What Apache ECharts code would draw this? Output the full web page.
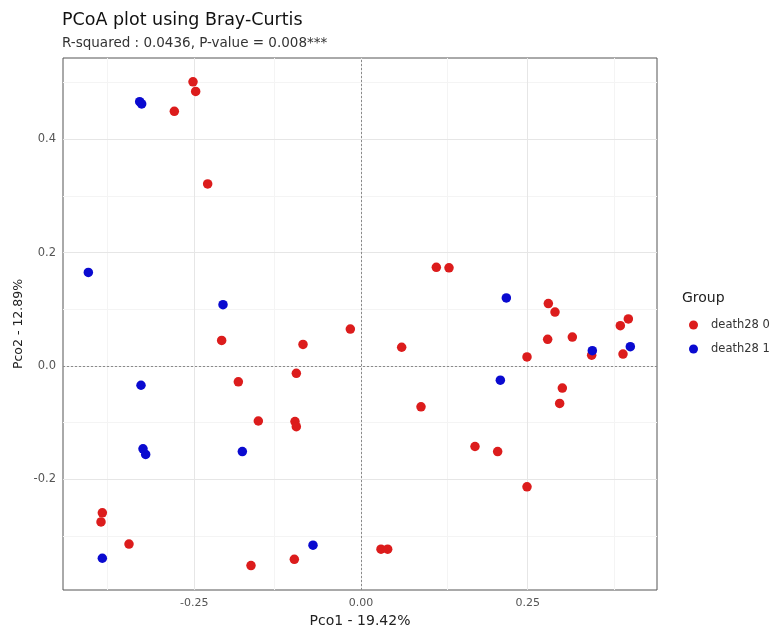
<!DOCTYPE html>
<html>
<head>
<meta charset="utf-8">
<script src="https://cdn.jsdelivr.net/npm/echarts@6/dist/echarts.min.js"></script>
<style>
  html, body { margin: 0; padding: 0; background: #fff; }
  #chart { width: 779px; height: 634px; }
</style>
</head>
<body>
<div id="chart"></div>
<script>
// ---- data ----
const groupNames = ['death28 0', 'death28 1'];
const groupColors = ['#dc1c1c', '#0a0ad0'];

const death28_0 = [
  [-0.252, 0.501], [-0.248, 0.484], [-0.280, 0.449], [-0.230, 0.321],
  [-0.016, 0.065], [-0.209, 0.045], [-0.087, 0.038], [-0.097, -0.013],
  [-0.184, -0.028], [-0.154, -0.097], [-0.099, -0.098], [-0.097, -0.107],
  [-0.388, -0.259], [-0.390, -0.275], [-0.348, -0.314], [-0.100, -0.341],
  [-0.165, -0.352], [0.030, -0.323], [0.040, -0.323], [0.113, 0.174],
  [0.132, 0.173], [0.281, 0.110], [0.291, 0.095], [0.401, 0.083],
  [0.389, 0.071], [0.280, 0.047], [0.317, 0.051], [0.061, 0.033],
  [0.346, 0.019], [0.393, 0.021], [0.249, 0.016], [0.302, -0.039],
  [0.298, -0.066], [0.090, -0.072], [0.171, -0.142], [0.205, -0.151],
  [0.249, -0.213]
];
const death28_1 = [
  [-0.332, 0.466], [-0.329, 0.462], [-0.409, 0.165], [-0.207, 0.108],
  [-0.330, -0.034], [-0.327, -0.146], [-0.323, -0.156], [-0.178, -0.151],
  [-0.388, -0.339], [-0.072, -0.316], [0.218, 0.120], [0.209, -0.025],
  [0.347, 0.027], [0.404, 0.034]
];

const xTicks = [-0.25, 0, 0.25];
const yTicks = [-0.2, 0, 0.2, 0.4];
const xMinor = [-0.375, -0.125, 0.125, 0.375];
const yMinor = [-0.3, -0.1, 0.1, 0.3, 0.5];
const xRange = [-0.447, 0.444];
const yRange = [-0.395, 0.543];

const titleText = 'PCoA plot using Bray-Curtis';
const subText = 'R-squared : 0.0436, P-value = 0.008***';
const xName = 'Pco1 - 19.42%';
const yName = 'Pco2 - 12.89%';
const legendTitle = 'Group';

// ---- chart ----
const FONT = 'DejaVu Sans, Liberation Sans, sans-serif';
const chart = echarts.init(document.getElementById('chart'), null, { renderer: 'canvas' });

const minorStyle = { color: '#f4f4f4', width: 1, type: 'solid' };
const majorStyle = { color: '#e6e6e6', width: 1, type: 'solid' };
const zeroStyle = { color: '#8a8a8a', width: 1, type: [2, 2] };

const gridLines = [];
xMinor.forEach(v => gridLines.push({ xAxis: v, lineStyle: minorStyle }));
yMinor.forEach(v => gridLines.push({ yAxis: v, lineStyle: minorStyle }));
xTicks.forEach(v => gridLines.push({ xAxis: v, lineStyle: majorStyle }));
yTicks.forEach(v => gridLines.push({ yAxis: v, lineStyle: majorStyle }));
gridLines.push({ xAxis: 0, lineStyle: zeroStyle });
gridLines.push({ yAxis: 0, lineStyle: zeroStyle });

chart.setOption({
  animation: false,
  textStyle: { fontFamily: FONT },
  title: [
    {
      text: titleText,
      subtext: subText,
      left: 62,
      top: 11,
      padding: 0,
      itemGap: 7,
      textStyle: { fontFamily: FONT, fontSize: 17.5, fontWeight: 'normal', color: '#111' },
      subtextStyle: { fontFamily: FONT, fontSize: 13.5, color: '#333' }
    },
    {
      text: legendTitle,
      left: 682,
      top: 291,
      padding: 0,
      textStyle: { fontFamily: FONT, fontSize: 14, fontWeight: 'normal', color: '#222' }
    }
  ],
  legend: {
    data: groupNames,
    orient: 'vertical',
    left: 684,
    top: 313,
    itemWidth: 9,
    itemHeight: 9,
    itemGap: 10,
    icon: 'circle',
    textStyle: { fontFamily: FONT, fontSize: 11.5, color: '#333', lineHeight: 14, padding: [0, 0, 0, 8] }
  },
  grid: {
    left: 63, right: 122, top: 58, bottom: 44,
    show: true, borderColor: '#555', borderWidth: 1, backgroundColor: '#fff'
  },
  xAxis: {
    type: 'value',
    min: xRange[0], max: xRange[1],
    name: xName,
    nameLocation: 'middle',
    nameGap: 24,
    nameTextStyle: { fontFamily: FONT, fontSize: 14, color: '#222' },
    axisLine: { show: false },
    splitLine: { show: false },
    axisTick: { show: true, customValues: xTicks, length: 3, lineStyle: { color: '#444' } },
    axisLabel: {
      customValues: xTicks,
      formatter: v => v.toFixed(2),
      fontFamily: FONT, fontSize: 11, color: '#555', margin: 8
    }
  },
  yAxis: {
    type: 'value',
    min: yRange[0], max: yRange[1],
    name: yName,
    nameLocation: 'middle',
    nameGap: 38,
    nameMoveOverlap: false,
    nameRotate: 90,
    nameTextStyle: { fontFamily: FONT, fontSize: 12.5, color: '#222' },
    axisLine: { show: false },
    splitLine: { show: false },
    axisTick: { show: true, customValues: yTicks, length: 3, lineStyle: { color: '#444' } },
    axisLabel: {
      customValues: yTicks,
      formatter: v => v.toFixed(1),
      fontFamily: FONT, fontSize: 11.5, color: '#555', margin: 7
    }
  },
  series: [
    {
      type: 'scatter',
      name: '__grid',
      data: [],
      silent: true,
      z: 1,
      markLine: {
        silent: true,
        symbol: ['none', 'none'],
        label: { show: false },
        emphasis: { disabled: true },
        animation: false,
        data: gridLines
      }
    },
    {
      type: 'scatter',
      name: groupNames[0],
      data: death28_0,
      symbol: 'circle',
      symbolSize: 9.5,
      itemStyle: { color: groupColors[0], opacity: 1 },
      zlevel: 1,
      z: 3
    },
    {
      type: 'scatter',
      name: groupNames[1],
      data: death28_1,
      symbol: 'circle',
      symbolSize: 9.5,
      itemStyle: { color: groupColors[1], opacity: 1 },
      zlevel: 1,
      z: 3
    }
  ]
});
</script>
</body>
</html>
